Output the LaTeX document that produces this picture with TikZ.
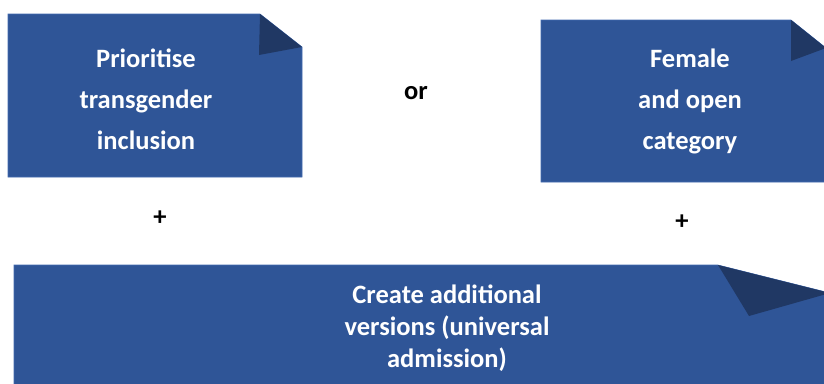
\documentclass[tikz,border=0pt]{standalone}
\usepackage{fontspec}
\setmainfont{Carlito}
\definecolor{boxblue}{RGB}{47,85,151}
\definecolor{folddark}{RGB}{32,56,100}
\definecolor{edgeblue}{RGB}{65,105,175}
\begin{document}
\begin{tikzpicture}[x=1pt,y=-1pt,
  card/.style={fill=boxblue,draw=edgeblue,line width=0.6pt},
  fold/.style={fill=folddark},
  cardtext/.style={text=white,align=center,font=\fontsize{26.5}{41}\selectfont\bfseries,inner sep=0pt},
  wide/.style={text=white,align=center,font=\fontsize{26.5}{32}\selectfont\bfseries,inner sep=0pt},
  optext/.style={text=black,font=\fontsize{26.5}{30}\selectfont\bfseries,inner sep=0pt}]
\useasboundingbox (0,0) rectangle (824,383);
\clip (0,0) rectangle (824,383);
% box 1
\path[card] (8,14) -- (260,14) -- (302,47) -- (302,177) -- (8,177) -- cycle;
\path[fold] (260,14) -- (302,47) -- (259,55) -- cycle;
% box 2
\path[card] (541,20) -- (791,20) -- (826,48) -- (826,182) -- (541,182) -- cycle;
\path[fold] (791,20) -- (826,48) -- (791,61) -- cycle;
% box 3
\path[card] (14,265) -- (718,265) -- (830,293) -- (830,390) -- (14,390) -- cycle;
\path[fold] (718,265) -- (830,293) -- (749,316) -- cycle;
% texts
\node[cardtext] (t1) at (146,99) {Prioritise\\transgender\\inclusion};
\node[cardtext] (t2) at (690,101) {Female\\and open\\category};
\node[wide] (t3) at (447,328) {Create additional\\versions (universal\\admission)};
\node[optext] (or) at (416,93) {or};
\node[optext] (p1) at (160,218) {+};
\node[optext] (p2) at (682,222) {+};
\end{tikzpicture}
\end{document}
